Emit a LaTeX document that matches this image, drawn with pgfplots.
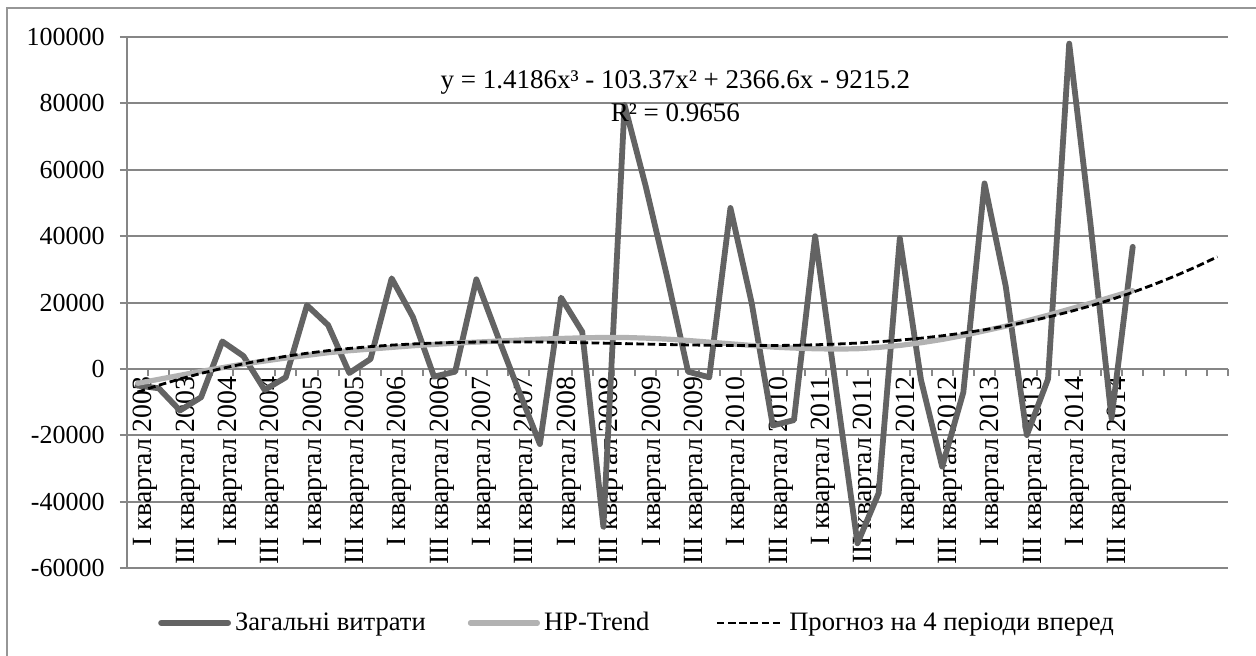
\documentclass[border=0pt]{standalone}
\usepackage{fontspec}
\setmainfont{Liberation Serif}
\usepackage{pgfplots}
\pgfplotsset{compat=1.18}
\definecolor{mainc}{RGB}{99,99,99}
\definecolor{hpc}{RGB}{178,178,178}
\definecolor{gridc}{RGB}{134,134,134}
\definecolor{framec}{RGB}{150,150,150}
\begin{document}
\begin{tikzpicture}[font=\fontsize{13}{15.6}\selectfont]
\useasboundingbox (0,0) rectangle (628pt,327.5pt);
\draw[framec, line width=0.8pt] (3.5pt,-5pt) -- (3.5pt,323.5pt) -- (640pt,323.5pt);
\begin{axis}[
  at={(63.5pt,43.4pt)}, anchor=south west,
  scale only axis, width=550.5pt, height=265.6pt,
  xmin=-0.5, xmax=51.5, ymin=-60000, ymax=100000,
  axis x line=middle, axis y line=left,
  axis line style={-, draw=gridc, line width=1pt},
  scaled y ticks=false,
  ytick={-60000,-40000,-20000,0,20000,40000,60000,80000,100000},
  yticklabels={-60000,-40000,-20000,0,20000,40000,60000,80000,100000},
  ymajorgrids, major grid style={draw=gridc, line width=1pt},
  xtick={0,2,...,46},
  xticklabels={I квартал 2003,III квартал 2003,I квартал 2004,III квартал 2004,I квартал 2005,III квартал 2005,I квартал 2006,III квартал 2006,I квартал 2007,III квартал 2007,I квартал 2008,III квартал 2008,I квартал 2009,III квартал 2009,I квартал 2010,III квартал 2010,I квартал 2011,III квартал 2011,I квартал 2012,III квартал 2012,I квартал 2013,III квартал 2013,I квартал 2014,III квартал 2014},
  minor xtick={-0.5,0.5,...,51.5},
  tick align=outside,
  major tick length=3.5pt, minor tick length=3.5pt,
  major x tick style={draw=none},
  minor x tick style={draw=gridc, line width=1pt},
  ytick style={draw=gridc, line width=1pt},
  yticklabel style={font=\fontsize{13}{15.6}\selectfont, anchor=east, inner sep=0pt, xshift=-7.5pt},
  xticklabel style={font=\fontsize{13.9}{16.7}\selectfont, rotate=90, anchor=east, inner sep=0pt, yshift=-4pt},
  legend style={at={(0.028,-0.103)}, anchor=west, draw=none, fill=none,
    inner sep=0pt, font=\fontsize{13.3}{16}\selectfont,
    /tikz/column 2/.style={column sep=19pt},
    /tikz/column 4/.style={column sep=31pt}},
  legend columns=3,
  legend image code/.code={\draw[#1] (0pt,0pt) -- (33.5pt,0pt);},
  clip=false,
]
\addplot[color=mainc, line width=2.9pt, line join=round, line cap=round] coordinates {
(0,-5000) (1,-5800) (2,-12500) (3,-8500) (4,8300) (5,3900) (6,-6300) (7,-2500)
(8,19200) (9,13200) (10,-1200) (11,3000) (12,27300) (13,15700) (14,-2300) (15,-800)
(16,27000) (17,10000) (18,-6500) (19,-22600) (20,21500) (21,11200) (22,-47500) (23,79500)
(24,55000) (25,28000) (26,-800) (27,-2500) (28,48500) (29,20000) (30,-17000) (31,-15400)
(32,40000) (33,-6500) (34,-52500) (35,-37400) (36,39400) (37,-3300) (38,-29400) (39,-7000)
(40,55900) (41,25000) (42,-19900) (43,-3000) (44,98000) (45,44000) (46,-14800) (47,36800)
};
\addlegendentry{Загальні витрати}
\addplot[color=hpc, line width=2.6pt, line join=round, line cap=round] coordinates {
(0,-4300) (1,-3100) (2,-1900) (3,-700) (4,400) (5,1500) (6,2400) (7,3300)
(8,4100) (9,4900) (10,5500) (11,6000) (12,6500) (13,7000) (14,7400) (15,7800)
(16,8100) (17,8400) (18,8700) (19,9000) (20,9200) (21,9400) (22,9500) (23,9500)
(24,9300) (25,9000) (26,8600) (27,8100) (28,7600) (29,7100) (30,6600) (31,6300)
(32,6100) (33,6000) (34,6100) (35,6500) (36,7100) (37,7900) (38,8900) (39,10100)
(40,11500) (41,12900) (42,14500) (43,16200) (44,18000) (45,19800) (46,21700) (47,23600)
};
\addlegendentry{HP-Trend}
\addplot[color=black, line width=1.4pt, dash pattern=on 3.8pt off 1.8pt] coordinates {
(0,-6951) (1,-4884) (2,-3007) (3,-1312) (4,211) (5,1570) (6,2772) (7,3828)
(8,4745) (9,5532) (10,6198) (11,6750) (12,7198) (13,7549) (14,7813) (15,7998)
(16,8113) (17,8165) (18,8164) (19,8118) (20,8035) (21,7924) (22,7794) (23,7653)
(24,7509) (25,7372) (26,7249) (27,7149) (28,7080) (29,7052) (30,7072) (31,7150)
(32,7293) (33,7510) (34,7810) (35,8201) (36,8692) (37,9291) (38,10006) (39,10847)
(40,11822) (41,12939) (42,14206) (43,15633) (44,17227) (45,18998) (46,20954) (47,23103)
(48,25454) (49,28015) (50,30795) (51,33802)
};
\addlegendentry{Прогноз на 4 періоди вперед}
\node[font=\fontsize{13.5}{16}\selectfont] at (axis cs:25.4,86400) {y = 1.4186x³ - 103.37x² + 2366.6x - 9215.2};
\node[font=\fontsize{13.5}{16}\selectfont] at (axis cs:25.4,77100) {R² = 0.9656};
\end{axis}
\end{tikzpicture}
\end{document}
